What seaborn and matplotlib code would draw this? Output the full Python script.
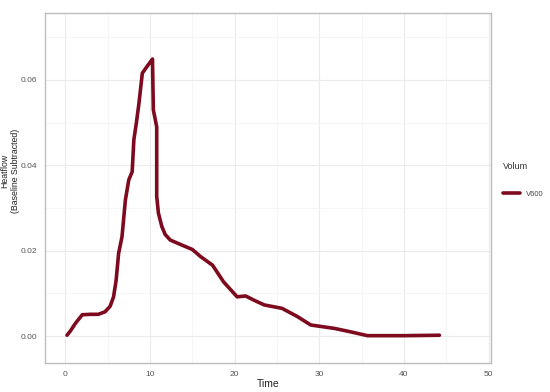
import numpy as np
import pandas as pd
import seaborn as sns
import matplotlib.pyplot as plt
from matplotlib.ticker import MultipleLocator

# values
time = [0.2, 0.6, 1.2, 2.0, 3.0, 3.9, 4.7, 5.3, 5.7, 6.0, 6.3, 6.7, 7.1, 7.5,
        7.9, 8.1, 8.4, 8.7, 9.1, 9.6, 10.3, 10.4, 10.8, 10.8, 11.0, 11.4,
        11.8, 12.4, 13.8, 15.0, 16.0, 17.4, 18.7, 20.3, 21.3, 22.3, 23.5,
        25.6, 27.4, 29.0, 31.8, 33.7, 35.7, 40.0, 44.2]
heatflow = [0.0002, 0.0012, 0.0030, 0.0050, 0.0051, 0.0051, 0.0057, 0.0070,
            0.0092, 0.0130, 0.0194, 0.0233, 0.0319, 0.0366, 0.0385, 0.0460,
            0.0500, 0.0545, 0.0616, 0.0630, 0.0649, 0.0530, 0.0490, 0.0327,
            0.0288, 0.0257, 0.0238, 0.0225, 0.0213, 0.0203, 0.0186, 0.0166,
            0.0127, 0.0092, 0.0094, 0.0084, 0.0073, 0.0065, 0.0046, 0.0026,
            0.0018, 0.0010, 0.0001, 0.0001, 0.0002]
volum = ["V600"] * len(time)

df = pd.DataFrame({"Time": time, "Heatflow": heatflow, "Volum": volum})

sns.set_theme(style="white")
plt.rcParams["font.family"] = ["Liberation Sans", "DejaVu Sans"]

fig = plt.figure(figsize=(5.5, 3.92), dpi=100)
ax = fig.add_axes([0.0818, 0.074, 0.811, 0.893])

sns.lineplot(data=df, x="Time", y="Heatflow", hue="Volum", palette=["#7d0a1e"],
             sort=False, estimator=None, linewidth=2.6, ax=ax)

ax.set_xlim(-2.4, 50.3)
ax.set_ylim(-0.0063, 0.0757)
ax.xaxis.set_major_locator(MultipleLocator(10))
ax.xaxis.set_minor_locator(MultipleLocator(5))
ax.yaxis.set_major_locator(MultipleLocator(0.02))
ax.yaxis.set_minor_locator(MultipleLocator(0.01))
ax.yaxis.set_major_formatter(plt.FormatStrFormatter("%.2f"))

ax.grid(which="major", color="#ebebeb", linewidth=0.8)
ax.grid(which="minor", color="#f4f4f4", linewidth=0.6)
ax.set_axisbelow(True)
for s in ax.spines.values():
    s.set_color("#bdbdbd")
    s.set_linewidth(1.0)

ax.tick_params(axis="both", which="major", labelsize=6, colors="#555555",
               length=2.5, width=0.6, pad=3)
ax.tick_params(axis="both", which="minor", length=0)

ax.set_xlabel("Time", fontsize=7.5, color="#222222", labelpad=1)
ax.set_ylabel("Heatflow\n(Baseline Subtracted)", fontsize=6.3, color="#222222")
ax.yaxis.set_label_coords(-0.056, 0.55)

leg = ax.legend(title="Volum", loc="upper left", bbox_to_anchor=(1.015, 0.59),
                frameon=False, fontsize=5.5, title_fontsize=6.5,
                handlelength=2.2, labelspacing=2.6, borderaxespad=0.3)
leg._legend_box.align = "left"
leg.get_title().set_color("#333333")
for t in leg.get_texts():
    t.set_color("#444444")

fig.savefig("out.png", dpi=100)
